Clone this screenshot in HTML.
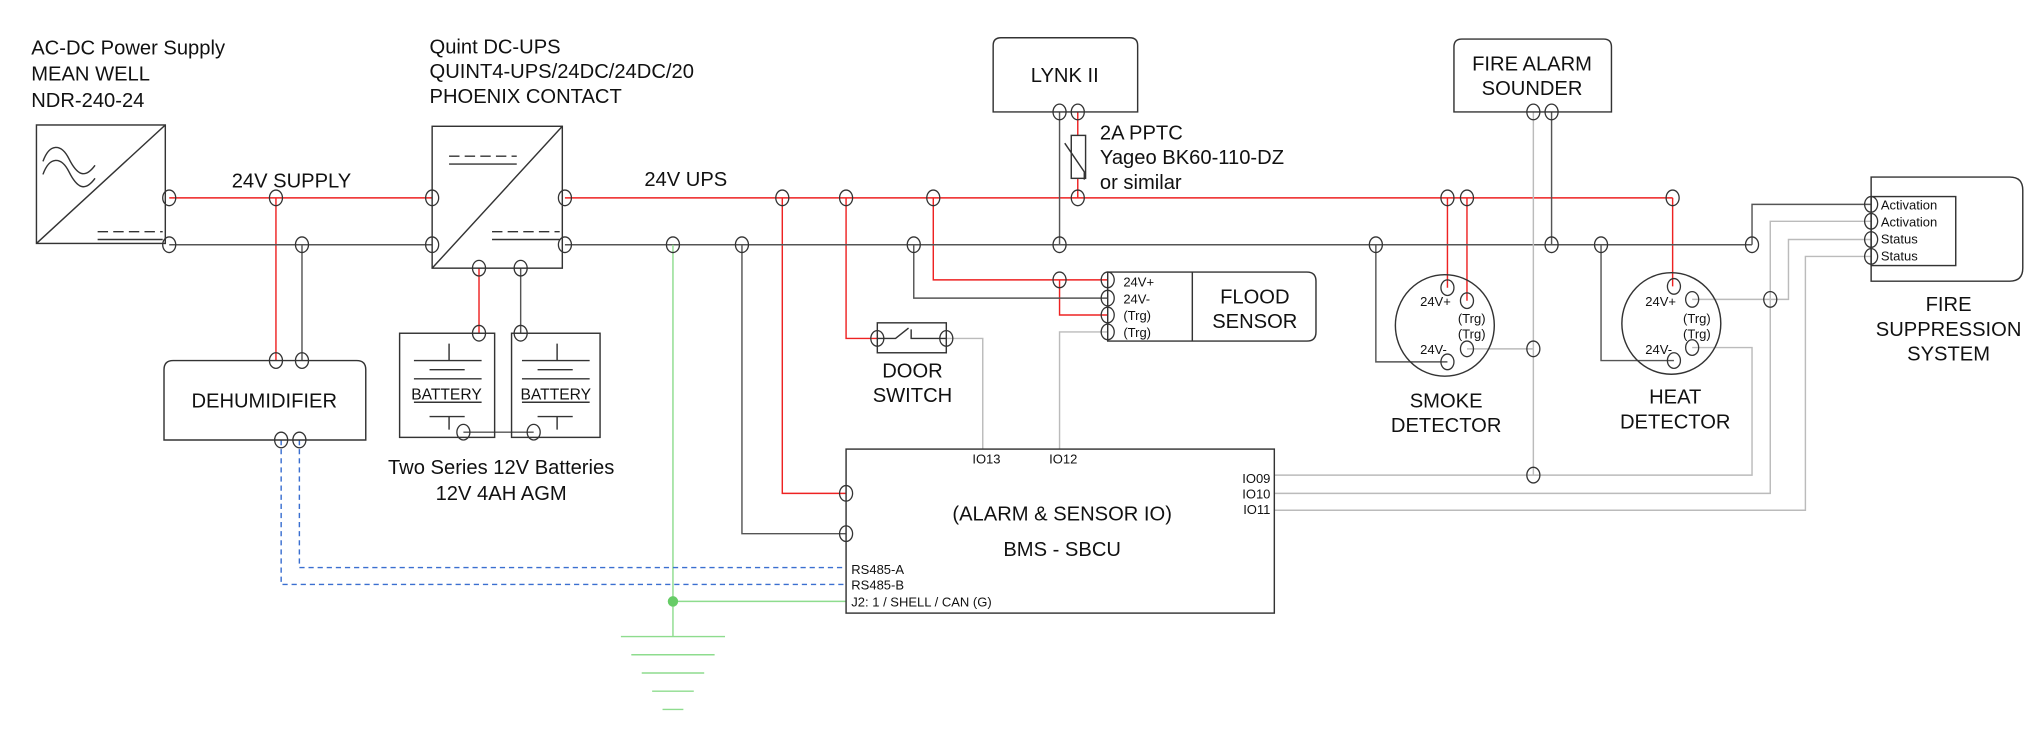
<!DOCTYPE html>
<html><head><meta charset="utf-8"><style>
html,body{margin:0;padding:0;background:#fff;}
svg{display:block;}
text{font-family:"Liberation Sans",sans-serif;fill:#111;}
.b{font-size:15.5px;}
.s{font-size:10px;}
.ck{fill:none;stroke:#333;stroke-width:1;}
</style></head><body>
<svg width="2041" height="736" viewBox="0 0 1568 565.4" xmlns="http://www.w3.org/2000/svg">
<g fill="none" stroke-width="1.1">
<g stroke="#ee2222">
<path d="M130 152H332M212 152V277M434 152H1285M368 206V256M601 152V379H650M650 152V260H674M717 152V215H851M814 215V242H851M828 86V152M1112 152V221M1127 152V231M1285 152V220"/>
</g>
<g stroke="#555">
<path d="M130 188H332M232 188V277M434 188H1346M400 206V256M356 332H410M570 188V410H650M702 188V229H851M814 86V188M1057 188V278H1112M1192 86V188M1230 188V277H1286M1346 188V157H1437"/>
</g>
<g stroke="#bbb">
<path d="M727 260H755V345M851 255H814V345M1178 86V365M1127 268H1178M979 365H1346V267H1300M979 379H1360V170H1437M1300 230H1374V184H1437M979 392H1387V197H1437"/>
</g>
<path d="M517 188V489M517 462H650" stroke="#8edc8e"/>
<g stroke="#8edc8e"><path d="M477 489H557M485 503H549M493 517H541M501 531H533M509 545H525"/></g>
<circle cx="517" cy="462" r="4" fill="#66cc66" stroke="none"/>
<path d="M230 338V436H650M216 338V449H650" stroke="#3a6fd0" stroke-dasharray="4,3"/>

<g stroke="#333">
<rect x="28" y="96" width="99" height="91"/>
<path d="M28 187L127 96"/>
<path d="M33 124c5-14 14-14 20-2s12 16 20 5M33 134c5-14 14-14 20-2s12 16 20 5"/>
<path d="M75 178H125" stroke-dasharray="8,4"/><path d="M75 184H125"/>
<rect x="332" y="97" width="100" height="109"/>
<path d="M332 206L432 97"/>
<path d="M345 120H397" stroke-dasharray="8,4"/><path d="M345 126H397"/>
<path d="M378 178H430" stroke-dasharray="8,4"/><path d="M378 184H430"/>
<path d="M126 338V284q0-7 7-7H274q7 0 7 7V338Z"/>
<rect x="307" y="256" width="73" height="80"/>
<rect x="393" y="256" width="68" height="80"/>
<path d="M345 264V277M318 277H370M330 284H357M318 291H370M318 309H370M330 320H357M345 320V330"/>
<path d="M428 264V277M401 277H453M413 284H440M401 291H453M401 309H453M413 320H440M428 320V330"/>
<path d="M763 86V35q0-6 6-6H868q6 0 6 6V86Z"/>
<rect x="823" y="104" width="11" height="33" fill="#fff"/>
<path d="M818 110L833 132V138"/>
<path d="M1117 86V36q0-6 6-6H1232q6 0 6 6V86Z"/>
<path d="M851 209H1004q7 0 7 7V255q0 7-7 7H851Z"/>
<path d="M916 209V262"/>
<rect x="674" y="248" width="53" height="23"/>
<path d="M674 260H688L698 252M700 253V260H727"/>
<rect x="650" y="345" width="329" height="126"/>
<ellipse cx="1110" cy="250" rx="38" ry="39"/>
<ellipse cx="1284" cy="248.5" rx="38" ry="39"/>
<path d="M1437.5 136H1544q10 0 10 10V206q0 10-10 10H1437.5Z"/>
<rect x="1437.5" y="151" width="65" height="53"/>
</g>
</g>
<g class="ck" fill="none">
<ellipse cx="130" cy="152" rx="5" ry="6"/><ellipse cx="130" cy="188" rx="5" ry="6"/>
<ellipse cx="212" cy="152" rx="5" ry="6"/><ellipse cx="232" cy="188" rx="5" ry="6"/>
<ellipse cx="212" cy="277" rx="5" ry="6"/><ellipse cx="232" cy="277" rx="5" ry="6"/>
<ellipse cx="216" cy="338" rx="5" ry="6"/><ellipse cx="230" cy="338" rx="5" ry="6"/>
<ellipse cx="332" cy="152" rx="5" ry="6"/><ellipse cx="332" cy="188" rx="5" ry="6"/>
<ellipse cx="434" cy="152" rx="5" ry="6"/><ellipse cx="434" cy="188" rx="5" ry="6"/>
<ellipse cx="368" cy="206" rx="5" ry="6"/><ellipse cx="400" cy="206" rx="5" ry="6"/>
<ellipse cx="368" cy="256" rx="5" ry="6"/><ellipse cx="400" cy="256" rx="5" ry="6"/>
<ellipse cx="356" cy="332" rx="5" ry="6"/><ellipse cx="410" cy="332" rx="5" ry="6"/>
<ellipse cx="517" cy="188" rx="5" ry="6"/><ellipse cx="570" cy="188" rx="5" ry="6"/>
<ellipse cx="601" cy="152" rx="5" ry="6"/><ellipse cx="650" cy="152" rx="5" ry="6"/>
<ellipse cx="717" cy="152" rx="5" ry="6"/><ellipse cx="702" cy="188" rx="5" ry="6"/>
<ellipse cx="814" cy="86" rx="5" ry="6"/><ellipse cx="828" cy="86" rx="5" ry="6"/>
<ellipse cx="828" cy="152" rx="5" ry="6"/><ellipse cx="814" cy="188" rx="5" ry="6"/>
<ellipse cx="814" cy="215" rx="5" ry="6"/>
<ellipse cx="851" cy="215" rx="5" ry="6"/><ellipse cx="851" cy="229" rx="5" ry="6"/>
<ellipse cx="851" cy="242" rx="5" ry="6"/><ellipse cx="851" cy="255" rx="5" ry="6"/>
<ellipse cx="674" cy="260" rx="5" ry="6"/><ellipse cx="727" cy="260" rx="5" ry="6"/>
<ellipse cx="650" cy="379" rx="5" ry="6"/><ellipse cx="650" cy="410" rx="5" ry="6"/>
<ellipse cx="1057" cy="188" rx="5" ry="6"/><ellipse cx="1192" cy="188" rx="5" ry="6"/>
<ellipse cx="1230" cy="188" rx="5" ry="6"/><ellipse cx="1346" cy="188" rx="5" ry="6"/>
<ellipse cx="1112" cy="152" rx="5" ry="6"/><ellipse cx="1127" cy="152" rx="5" ry="6"/>
<ellipse cx="1285" cy="152" rx="5" ry="6"/>
<ellipse cx="1178" cy="86" rx="5" ry="6"/><ellipse cx="1192" cy="86" rx="5" ry="6"/>
<ellipse cx="1112" cy="221" rx="5" ry="6"/><ellipse cx="1127" cy="231" rx="5" ry="6"/>
<ellipse cx="1127" cy="268" rx="5" ry="6"/><ellipse cx="1112" cy="278" rx="5" ry="6"/>
<ellipse cx="1178" cy="268" rx="5" ry="6"/><ellipse cx="1178" cy="365" rx="5" ry="6"/>
<ellipse cx="1286" cy="220" rx="5" ry="6"/><ellipse cx="1300" cy="230" rx="5" ry="6"/>
<ellipse cx="1300" cy="267" rx="5" ry="6"/><ellipse cx="1286" cy="277" rx="5" ry="6"/>
<ellipse cx="1360" cy="230" rx="5" ry="6"/>
<ellipse cx="1437.5" cy="157" rx="5" ry="6"/><ellipse cx="1437.5" cy="170" rx="5" ry="6"/>
<ellipse cx="1437.5" cy="184" rx="5" ry="6"/><ellipse cx="1437.5" cy="197" rx="5" ry="6"/>
</g>
<text class="b" x="24" y="42">AC-DC Power Supply</text>
<text class="b" x="24" y="62">MEAN WELL</text>
<text class="b" x="24" y="82">NDR-240-24</text>
<text class="b" x="330" y="41">Quint DC-UPS</text>
<text class="b" x="330" y="60">QUINT4-UPS/24DC/24DC/20</text>
<text class="b" x="330" y="79">PHOENIX CONTACT</text>
<text class="b" x="178" y="144">24V SUPPLY</text>
<text class="b" x="495" y="143">24V UPS</text>
<text class="b" x="203" y="313" text-anchor="middle">DEHUMIDIFIER</text>
<text class="s" x="343" y="307" text-anchor="middle" style="font-size:12px">BATTERY</text>
<text class="s" x="427" y="307" text-anchor="middle" style="font-size:12px">BATTERY</text>
<text class="b" x="385" y="364" text-anchor="middle">Two Series 12V Batteries</text>
<text class="b" x="385" y="384" text-anchor="middle">12V 4AH AGM</text>
<text class="b" x="818" y="63" text-anchor="middle">LYNK II</text>
<text class="b" x="845" y="107">2A PPTC</text>
<text class="b" x="845" y="126">Yageo BK60-110-DZ</text>
<text class="b" x="845" y="145">or similar</text>
<text class="b" x="1177" y="54" text-anchor="middle">FIRE ALARM</text>
<text class="b" x="1177" y="73" text-anchor="middle">SOUNDER</text>
<text class="s" x="863" y="220">24V+</text>
<text class="s" x="863" y="233">24V-</text>
<text class="s" x="863" y="246">(Trg)</text>
<text class="s" x="863" y="259">(Trg)</text>
<text class="b" x="964" y="233" text-anchor="middle">FLOOD</text>
<text class="b" x="964" y="252" text-anchor="middle">SENSOR</text>
<text class="b" x="701" y="290" text-anchor="middle">DOOR</text>
<text class="b" x="701" y="309" text-anchor="middle">SWITCH</text>
<text class="s" x="747" y="356">IO13</text>
<text class="s" x="806" y="356">IO12</text>
<text class="s" x="976" y="371" text-anchor="end">IO09</text>
<text class="s" x="976" y="383" text-anchor="end">IO10</text>
<text class="s" x="976" y="395" text-anchor="end">IO11</text>
<text class="b" x="816" y="400" text-anchor="middle">(ALARM &amp; SENSOR IO)</text>
<text class="b" x="816" y="427" text-anchor="middle">BMS - SBCU</text>
<text class="s" x="654" y="441">RS485-A</text>
<text class="s" x="654" y="453">RS485-B</text>
<text class="s" x="654" y="466">J2: 1 / SHELL / CAN (G)</text>
<text class="s" x="1091" y="235">24V+</text>
<text class="s" x="1120" y="248">(Trg)</text>
<text class="s" x="1120" y="260">(Trg)</text>
<text class="s" x="1091" y="272">24V-</text>
<text class="b" x="1111" y="313" text-anchor="middle">SMOKE</text>
<text class="b" x="1111" y="332" text-anchor="middle">DETECTOR</text>
<text class="s" x="1264" y="235">24V+</text>
<text class="s" x="1293" y="248">(Trg)</text>
<text class="s" x="1293" y="260">(Trg)</text>
<text class="s" x="1264" y="272">24V-</text>
<text class="b" x="1287" y="310" text-anchor="middle">HEAT</text>
<text class="b" x="1287" y="329" text-anchor="middle">DETECTOR</text>
<text class="s" x="1445" y="161">Activation</text>
<text class="s" x="1445" y="174">Activation</text>
<text class="s" x="1445" y="187">Status</text>
<text class="s" x="1445" y="200">Status</text>
<text class="b" x="1497" y="239" text-anchor="middle">FIRE</text>
<text class="b" x="1497" y="258" text-anchor="middle">SUPPRESSION</text>
<text class="b" x="1497" y="277" text-anchor="middle">SYSTEM</text>
</svg>
</body></html>
